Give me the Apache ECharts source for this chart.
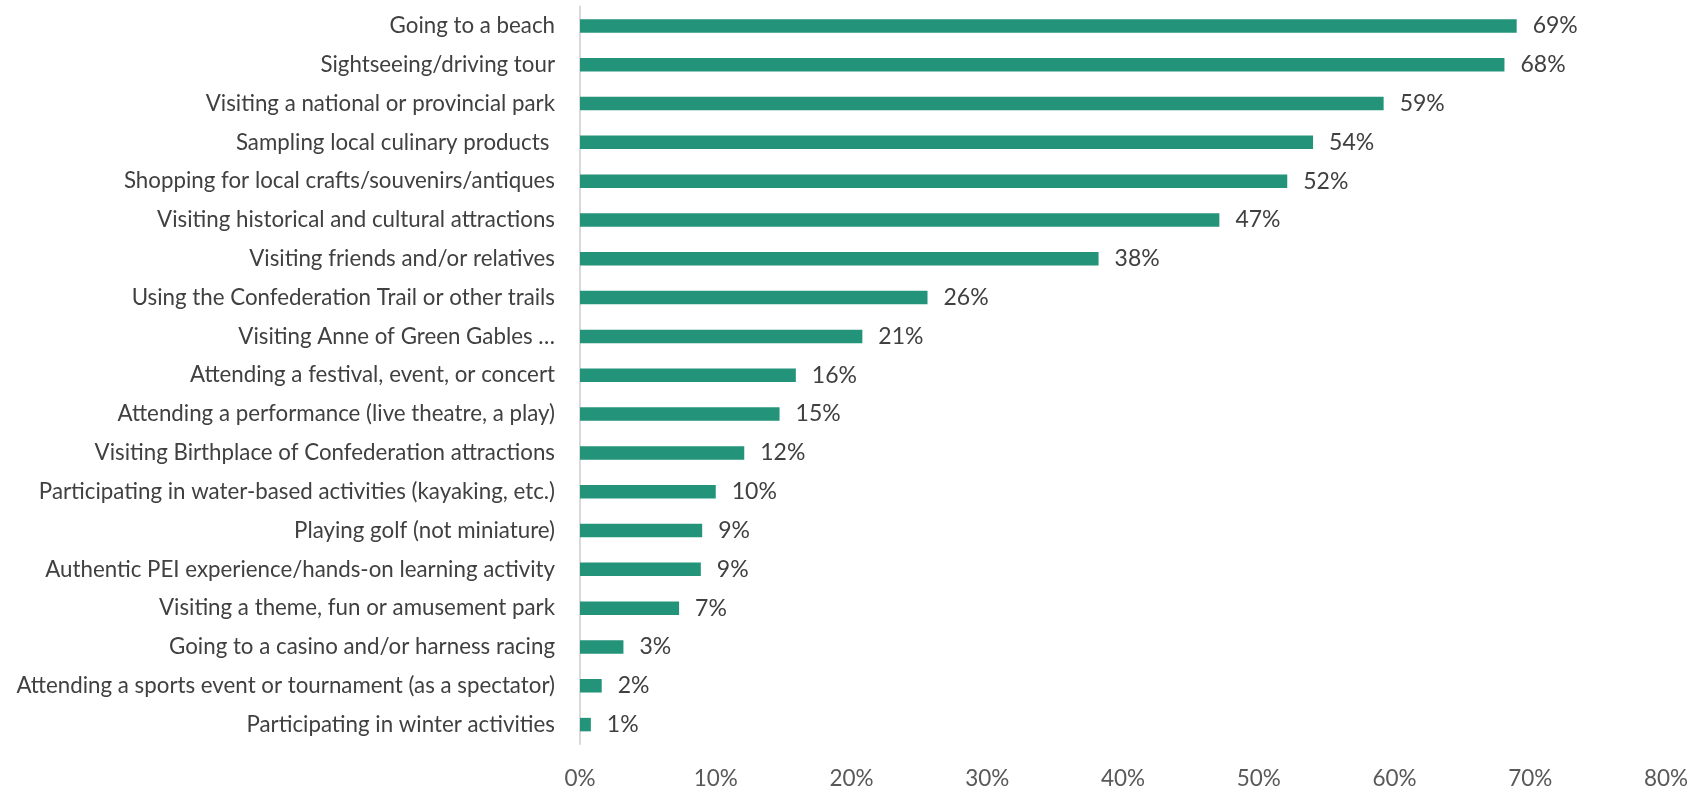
<!DOCTYPE html>
<html>
<head>
<meta charset="utf-8">
<script src="https://cdn.jsdelivr.net/npm/echarts@6/dist/echarts.min.js"></script>
<style>html,body{margin:0;padding:0;background:#fff}#c{width:1698px;height:790px}</style>
</head>
<body>
<div id="c"></div>
<script>
const categories = [
  "Going to a beach",
  "Sightseeing/driving tour",
  "Visiting a national or provincial park",
  "Sampling local culinary products ",
  "Shopping for local crafts/souvenirs/antiques",
  "Visiting historical and cultural attractions",
  "Visiting friends and/or relatives",
  "Using the Confederation Trail or other trails",
  "Visiting Anne of Green Gables …",
  "Attending a festival, event, or concert",
  "Attending a performance (live theatre, a play)",
  "Visiting Birthplace of Confederation attractions",
  "Participating in water-based activities (kayaking, etc.)",
  "Playing golf (not miniature)",
  "Authentic PEI experience/hands-on learning activity",
  "Visiting a theme, fun or amusement park",
  "Going to a casino and/or harness racing",
  "Attending a sports event or tournament (as a spectator)",
  "Participating in winter activities"
];
const values = [69, 68.1, 59.2, 54, 52.1, 47.1, 38.2, 25.6, 20.8, 15.9, 14.7, 12.1, 10, 9, 8.9, 7.3, 3.2, 1.6, 0.8];
const xTicks = { min: 0, max: 80, interval: 10 };

const chart = echarts.init(document.getElementById('c'));
const font = 'Lato, "Liberation Sans", sans-serif';
chart.setOption({
  animation: false,
  grid: { left: 580, right: 32, top: 6.5, bottom: 42.5, containLabel: false },
  xAxis: {
    type: 'value', min: xTicks.min, max: xTicks.max, interval: xTicks.interval,
    axisLine: { show: false }, axisTick: { show: false }, splitLine: { show: false },
    axisLabel: { formatter: '{value}%', color: '#595959', fontSize: 22.5, fontFamily: font, margin: 23 }
  },
  yAxis: {
    type: 'category', data: categories, inverse: true,
    axisLine: { show: true, lineStyle: { color: '#d9d9d9', width: 2 } },
    axisTick: { show: false },
    axisLabel: { color: '#404040', fontSize: 22.3, fontFamily: font, margin: 25, padding: [3, 0, 0, 0] }
  },
  series: [{
    type: 'bar', data: values, barWidth: 13.5,
    itemStyle: { color: '#239479' },
    label: {
      show: true, position: 'right', distance: 16,
      formatter: p => Math.round(p.value) + '%',
      color: '#404040', fontSize: 23, fontFamily: font
    }
  }]
});
</script>
</body>
</html>
